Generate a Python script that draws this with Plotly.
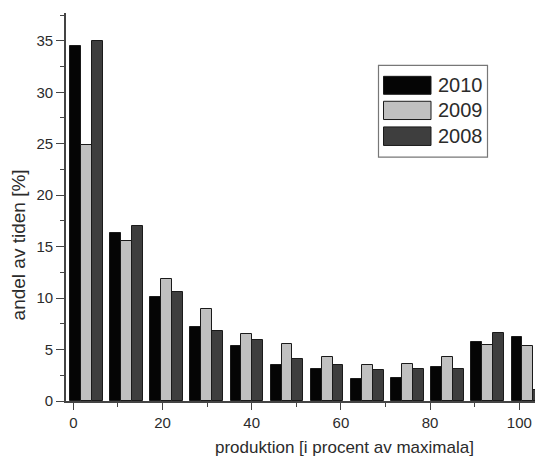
import plotly.graph_objects as go

# Production bins (percent of maximum) and share of time per year
bins = [0, 9, 18, 27, 36, 45, 54, 63, 72, 81, 90, 99]
share_2010 = [34.5, 16.3, 10.1, 7.2, 5.3, 3.5, 3.1, 2.1, 2.2, 3.3, 5.7, 6.2]
share_2009 = [24.9, 15.5, 11.9, 8.9, 6.5, 5.5, 4.3, 3.5, 3.6, 4.3, 5.4, 5.3]
share_2008 = [35.0, 17.0, 10.6, 6.8, 5.9, 4.1, 3.5, 3.0, 3.1, 3.1, 6.6, 1.1]
years = ["2010", "2009", "2008"]

W, H = 535, 459
ML, MR, MT, MB = 66, 0, 12.5, 57.5
PW, PH = W - ML - MR, H - MT - MB

FONT = "Liberation Sans, Arial, sans-serif"
TXT = "#2b2b2b"
AX = "#444444"
colors = ["#050505", "#c0c0c0", "#3e3e3e"]
edge = "#1a1a1a"

bar_w = 2.44
offsets = [-0.74, -0.74 + bar_w, -0.74 + 2 * bar_w]


def px_x(px):
    return (px - ML) / PW


def px_y(py):
    return (H - MB - py) / PH


fig = go.Figure()
for name, vals, col, off in zip(years, [share_2010, share_2009, share_2008], colors, offsets):
    fig.add_trace(go.Bar(
        x=bins, y=vals, name=name, width=bar_w, offset=off,
        marker=dict(color=col, line=dict(color=edge, width=1)),
        showlegend=False,
    ))

axis_common = dict(
    showline=True, linecolor=AX, linewidth=1.6, mirror=False,
    ticks="outside", tickcolor=AX, tickwidth=1.4,
    showgrid=False, zeroline=False,
    tickfont=dict(family=FONT, size=15, color=TXT),
)

fig.update_xaxes(
    range=[-1.64, 103.52], tick0=0, dtick=20, ticklen=7,
    minor=dict(tick0=0, dtick=10, ticks="outside", ticklen=4, tickcolor=AX, showgrid=False),
    **axis_common,
)
fig.update_yaxes(
    range=[0, 37.7], tick0=0, dtick=5, ticklen=8,
    minor=dict(tick0=0, dtick=2.5, ticks="outside", ticklen=4, tickcolor=AX, showgrid=False),
    **axis_common,
)

annotations = [
    dict(text="produktion [i procent av maximala]", xref="paper", yref="paper",
         x=px_x(344.5), y=px_y(448), xanchor="center", yanchor="middle",
         showarrow=False, font=dict(family=FONT, size=17, color=TXT)),
    dict(text="andel av tiden [%]", xref="paper", yref="paper",
         x=px_x(18), y=px_y(245.5), xanchor="center", yanchor="middle",
         textangle=-90, showarrow=False, font=dict(family=FONT, size=19, color=TXT)),
]

# Legend box with swatches
shapes = [dict(type="rect", xref="paper", yref="paper",
               x0=px_x(378.5), x1=px_x(487.5), y0=px_y(157), y1=px_y(65),
               line=dict(color="#777777", width=1.2), fillcolor="white", layer="above")]
rows = [(76, 94), (101, 119.3), (126.7, 145.3)]
for (top, bot), col, name in zip(rows, colors, years):
    shapes.append(dict(type="rect", xref="paper", yref="paper",
                       x0=px_x(383.5), x1=px_x(431), y0=px_y(bot), y1=px_y(top),
                       line=dict(color=edge, width=1), fillcolor=col, layer="above"))
    annotations.append(dict(text=name, xref="paper", yref="paper",
                            x=px_x(436), y=px_y((top + bot) / 2),
                            xanchor="left", yanchor="middle", showarrow=False,
                            font=dict(family=FONT, size=20, color=TXT)))

fig.update_layout(
    width=W, height=H,
    margin=dict(l=ML, r=MR, t=MT, b=MB, pad=0),
    paper_bgcolor="white", plot_bgcolor="white",
    barmode="overlay", bargap=0,
    shapes=shapes, annotations=annotations,
    showlegend=False,
)

fig.write_html("out.html")
